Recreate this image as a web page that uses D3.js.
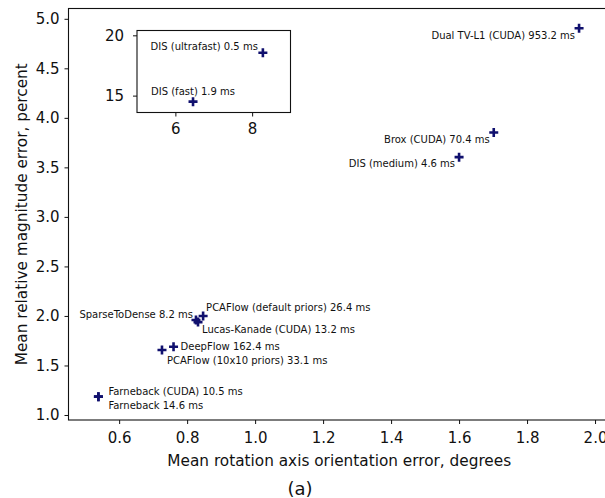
<!DOCTYPE html>
<html><head><meta charset="utf-8">
<script src="https://cdn.jsdelivr.net/npm/d3@7"></script>
<style>body{margin:0;background:#fff} svg{display:block;font-family:"DejaVu Sans",sans-serif}</style>
</head><body><svg id="c" width="605" height="498"></svg>
<script>
// ---- data ----
const methods = ["Dual TV-L1 (CUDA) 953.2 ms","Brox (CUDA) 70.4 ms","DIS (medium) 4.6 ms",
  "PCAFlow (default priors) 26.4 ms","SparseToDense 8.2 ms","Lucas-Kanade (CUDA) 13.2 ms",
  "DeepFlow 162.4 ms","PCAFlow (10x10 priors) 33.1 ms","Farneback (CUDA) 10.5 ms","Farneback 14.6 ms"];
const rotErr = [1.953, 1.702, 1.600, 0.847, 0.826, 0.832, 0.760, 0.726, 0.539, 0.539];
const magErr = [4.905, 3.852, 3.603, 1.999, 1.959, 1.938, 1.689, 1.656, 1.185, 1.185];
const insetMethods = ["DIS (ultrafast) 0.5 ms","DIS (fast) 1.9 ms"];
const insetRotErr = [8.28, 6.46];
const insetMagErr = [18.56, 14.5];
const xTicks = [0.6,0.8,1.0,1.2,1.4,1.6,1.8,2.0];
const yTicks = [1.0,1.5,2.0,2.5,3.0,3.5,4.0,4.5,5.0];
const insetXTicks = [6,8];
const insetYTicks = [15,20];
const xTitle = "Mean rotation axis orientation error, degrees";
const yTitle = "Mean relative magnitude error, percent";
const caption = "(a)";

// ---- layout (label placement, px offsets) ----
const labelPlace = [
  {dx:-4,dy:11,a:"end"},{dx:-4,dy:10,a:"end"},{dx:-4,dy:10,a:"end"},
  {dx:3,dy:-5,a:"start"},{dx:-3,dy:-2,a:"end"},{dx:4,dy:11,a:"start"},
  {dx:7,dy:3,a:"start"},{dx:5,dy:14,a:"start"},{dx:10,dy:-2,a:"start"},{dx:10,dy:12,a:"start"}];
const insetPlace = [{dx:-5,dy:-3,a:"end"},{dx:0,dy:-7,a:"middle"}];

const svg = d3.select("#c");
const L=68.5, R=610, T=8.5, B=420;
const x = d3.scaleLinear().domain([0.451, 2.044]).range([L, R]);
const y = d3.scaleLinear().domain([0.9495, 5.104]).range([B, T]);
const ink = "#111";
const markColor = "#10106e";
const labelFs = 10;

function styleAxis(g, fs){
  g.selectAll("path.domain").remove();
  g.selectAll(".tick line").attr("stroke", ink).attr("stroke-width",1);
  g.selectAll(".tick text").attr("fill", ink).attr("font-size", fs).attr("font-family","DejaVu Sans");
}
svg.append("g").attr("transform",`translate(0,${B})`)
  .call(d3.axisBottom(x).tickValues(xTicks).tickFormat(d3.format(".1f")).tickSizeInner(4).tickSizeOuter(0).tickPadding(8))
  .call(g=>styleAxis(g,15));
svg.append("g").attr("transform",`translate(${L},0)`)
  .call(d3.axisLeft(y).tickValues(yTicks).tickFormat(d3.format(".1f")).tickSizeInner(4).tickSizeOuter(0).tickPadding(5))
  .call(g=>styleAxis(g,15));
// frame
svg.append("rect").attr("x",L).attr("y",T).attr("width",R-L).attr("height",B-T)
  .attr("fill","none").attr("stroke",ink).attr("stroke-width",1.1);

function plus(g, cx, cy){
  g.append("path").attr("d",`M${cx-4.5},${cy}H${cx+4.5}M${cx},${cy-4.5}V${cy+4.5}`)
    .attr("stroke",markColor).attr("stroke-width",2.6);
}
const pts = svg.append("g");
methods.forEach((m,i)=>{
  const cx=x(rotErr[i]), cy=y(magErr[i]);
  plus(pts,cx,cy);
  const p=labelPlace[i];
  pts.append("text").attr("x",cx+p.dx).attr("y",cy+p.dy).attr("text-anchor",p.a)
    .attr("font-size",labelFs).attr("fill",ink).text(m);
});

// inset
const iL=137, iR=290.5, iT=30.5, iB=112.5;
const ix = d3.scaleLinear().domain([5.0, 9.0]).range([iL, iR]);
const iy = d3.scaleLinear().domain([13.6, 20.4]).range([iB, iT]);
const ins = svg.append("g");
ins.append("rect").attr("x",iL).attr("y",iT).attr("width",iR-iL).attr("height",iB-iT).attr("fill","#fff");
ins.append("g").attr("transform",`translate(0,${iB})`)
  .call(d3.axisBottom(ix).tickValues(insetXTicks).tickFormat(d3.format("d")).tickSizeInner(4).tickSizeOuter(0).tickPadding(7))
  .call(g=>styleAxis(g,15));
ins.append("g").attr("transform",`translate(${iL},0)`)
  .call(d3.axisLeft(iy).tickValues(insetYTicks).tickFormat(d3.format("d")).tickSizeInner(4).tickSizeOuter(0).tickPadding(9))
  .call(g=>styleAxis(g,15));
ins.append("rect").attr("x",iL).attr("y",iT).attr("width",iR-iL).attr("height",iB-iT)
  .attr("fill","none").attr("stroke",ink).attr("stroke-width",1.1);
insetMethods.forEach((m,i)=>{
  const cx=ix(insetRotErr[i]), cy=iy(insetMagErr[i]);
  plus(ins,cx,cy);
  const p=insetPlace[i];
  ins.append("text").attr("x",cx+p.dx).attr("y",cy+p.dy).attr("text-anchor",p.a)
    .attr("font-size",labelFs).attr("fill",ink).text(m);
});

// titles
svg.append("text").attr("x",(L+R)/2).attr("y",466).attr("text-anchor","middle")
  .attr("font-size",15.3).attr("fill",ink).text(xTitle);
svg.append("text").attr("transform",`translate(27,${(T+B)/2}) rotate(-90)`).attr("text-anchor","middle")
  .attr("font-size",15.3).attr("fill",ink).text(yTitle);
svg.append("text").attr("x",300).attr("y",495).attr("text-anchor","middle")
  .attr("font-size",18).attr("fill",ink).text(caption);
</script></body></html>
